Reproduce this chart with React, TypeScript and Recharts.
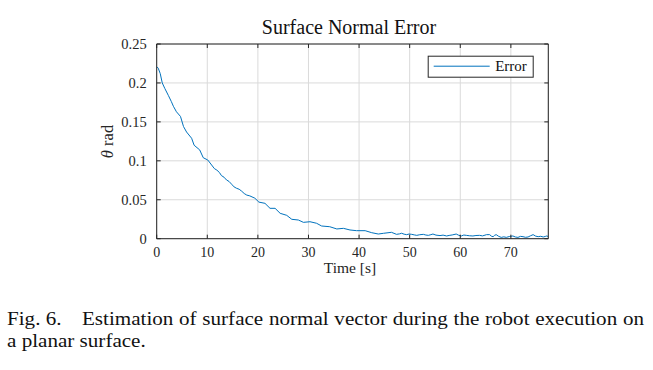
import React from 'react'
import { LineChart, Line, XAxis, YAxis, CartesianGrid } from 'recharts'

// time in seconds and estimated surface normal error in rad
const TIME = [
  0, 0.3, 0.7, 1.1, 1.6, 2.3, 2.9, 3.3, 3.9, 4.7, 5.3, 5.9, 6.9, 7.4, 8.5, 9.2, 10.1,
  11.4, 11.9, 12.4, 12.8, 13.3, 13.8, 14.3, 14.8, 15.3, 15.8, 16.3, 16.8, 17.3, 17.8, 18.4,
  19.4, 20.2, 21.4, 22.4, 23.4, 24.4, 25.7, 26.7, 28, 29, 30.3, 31.6, 32.6, 34.2, 35.6,
  36.9, 38.2, 39.5, 41.2, 42.5, 43.8, 44.8, 46.4, 47.4,
  48.0, 48.4, 48.9, 49.4, 49.9, 50.4, 50.9, 51.4, 52.0, 52.7, 53.2, 53.7, 54.2, 54.6, 55.2,
  56.0, 56.6, 57.3, 57.8, 58.4, 59.2, 59.7, 60.2, 60.7, 61.2, 61.8, 62.5, 63.1, 63.8, 64.4,
  65.2, 65.8, 66.2, 66.5, 66.8, 67.1, 67.6, 68.1, 68.6, 69.1, 69.7, 70.4, 70.9, 71.4, 71.9,
  72.4, 72.9, 73.4, 73.9, 74.4, 74.9, 75.4, 75.9, 76.4, 76.8, 77.1, 77.4,
]
const ERROR = [
  0.221, 0.219, 0.212, 0.2, 0.193, 0.184, 0.176, 0.17, 0.163, 0.157, 0.144, 0.137, 0.129, 0.12, 0.114, 0.104, 0.101,
  0.09, 0.088, 0.085, 0.081, 0.079, 0.0754, 0.0735, 0.07, 0.0665, 0.0647, 0.0635, 0.061, 0.058, 0.056, 0.055,
  0.052, 0.047, 0.0454, 0.039, 0.039, 0.0326, 0.03, 0.0249, 0.024, 0.021, 0.0218, 0.0198, 0.0163, 0.0154, 0.0125,
  0.0133, 0.0112, 0.0103, 0.0103, 0.0077, 0.006, 0.0069, 0.0082, 0.0056,
  0.0062, 0.007, 0.0058, 0.0052, 0.006, 0.0056, 0.0049, 0.0043, 0.0051, 0.0056, 0.0047, 0.0043, 0.0052, 0.006, 0.0046,
  0.004, 0.0046, 0.0035, 0.0042, 0.0048, 0.006, 0.0044, 0.0035, 0.0047, 0.0043, 0.0038, 0.0035, 0.0041, 0.0043, 0.0036,
  0.0052, 0.0052, 0.0031, 0.0026, 0.0044, 0.0052, 0.003, 0.0017, 0.0024, 0.0017, 0.0028, 0.0035, 0.0022, 0.0017, 0.003,
  0.0026, 0.0018, 0.0022, 0.0038, 0.0052, 0.0033, 0.0026, 0.0031, 0.0022, 0.0029, 0.0035, 0.0028,
]
const X_TICKS = [0, 10, 20, 30, 40, 50, 60, 70]
const Y_TICKS = [0, 0.05, 0.1, 0.15, 0.2, 0.25]
const SERIES_NAME = 'Error'

const data = TIME.map((t, i) => ({ t, err: ERROR[i] }))

const FONT = '"Liberation Serif", "Times New Roman", serif'
const INK = '#262626'
const BLUE = '#0072BD'

export default function App() {
  const noLabel = () => ''
  return (
    <div style={{ position: 'absolute', left: 0, top: 0, width: 653, height: 370, background: '#fff' }}>
      <LineChart
        width={653}
        height={290}
        data={data}
        margin={{ top: 43, right: 103.7, left: 96.7, bottom: 21.3 }}
        style={{ fontFamily: FONT }}
      >
        <CartesianGrid xAxisId="x" yAxisId="y" stroke="#dadada" strokeWidth={1} />
        <XAxis
          xAxisId="x"
          dataKey="t"
          type="number"
          domain={[0, 77.4]}
          ticks={X_TICKS}
          allowDataOverflow
          height={30}
          stroke={INK}
          tickSize={-4}
          tickMargin={12}
          tick={{ fontSize: 14, fill: INK, fontFamily: FONT }}
        />
        <XAxis
          xAxisId="xt"
          orientation="top"
          dataKey="t"
          type="number"
          domain={[0, 77.4]}
          ticks={X_TICKS}
          allowDataOverflow
          height={1}
          stroke={INK}
          tickSize={-4}
          tickFormatter={noLabel}
        />
        <YAxis
          yAxisId="y"
          type="number"
          domain={[0, 0.25]}
          ticks={Y_TICKS}
          allowDataOverflow
          width={60}
          stroke={INK}
          tickSize={-4}
          tickMargin={14}
          tickFormatter={(v: number) => String(v)}
          tick={{ fontSize: 14.5, fill: INK, fontFamily: FONT }}
        />
        <YAxis
          yAxisId="yr"
          orientation="right"
          type="number"
          domain={[0, 0.25]}
          ticks={Y_TICKS}
          allowDataOverflow
          width={1}
          stroke={INK}
          tickSize={-4}
          tickFormatter={noLabel}
        />
        <Line
          xAxisId="x"
          yAxisId="y"
          dataKey="err"
          name={SERIES_NAME}
          type="linear"
          stroke={BLUE}
          strokeWidth={1}
          dot={false}
          isAnimationActive={false}
        />
      </LineChart>

      <svg
        width={653}
        height={290}
        style={{ position: 'absolute', left: 0, top: 0, pointerEvents: 'none' }}
      >
        <text x={349} y={34} textAnchor="middle" fontSize={20} fontFamily={FONT} fill="#111">
          Surface Normal Error
        </text>
        <text x={350} y={273} textAnchor="middle" fontSize={15.5} fontFamily={FONT} fill={INK}>
          Time [s]
        </text>
        <text
          x={113}
          y={141.5}
          textAnchor="middle"
          fontSize={16.5}
          fontFamily={FONT}
          fill={INK}
          transform="rotate(-90 113 141.5)"
        >
          <tspan fontStyle="italic">θ</tspan> rad
        </text>
        <g transform="translate(427.7 55.7)">
          <rect x={0.5} y={0.5} width={105} height={21} fill="#fff" stroke={INK} strokeWidth={1} />
          <line x1={6} x2={62} y1={10.5} y2={10.5} stroke={BLUE} strokeWidth={1} />
          <text x={67.5} y={15.5} fontSize={15} fontFamily={FONT} fill="#111">{SERIES_NAME}</text>
        </g>
      </svg>

      <div
        style={{
          position: 'absolute',
          left: 7.3,
          top: 309,
          width: 637 / 1.14,
          fontFamily: FONT,
          fontSize: 18.5,
          lineHeight: '21.6px',
          color: '#111',
          transform: 'scaleX(1.14)',
          transformOrigin: 'left top',
        }}
      >
        <div style={{ display: 'flex' }}>
          <span style={{ width: 75 / 1.14, flex: 'none' }}>Fig. 6.</span>
          <span style={{ flex: 1, textAlign: 'justify', textAlignLast: 'justify' }}>
            Estimation of surface normal vector during the robot execution on
          </span>
        </div>
        <div>a planar surface.</div>
      </div>
    </div>
  )
}
